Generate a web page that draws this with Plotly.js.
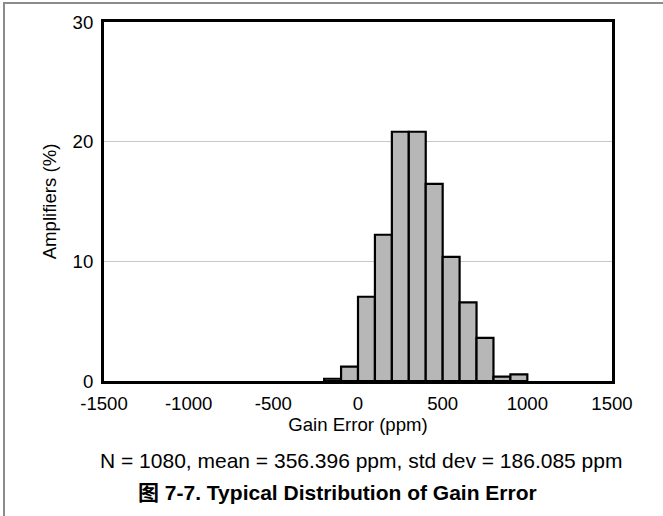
<!DOCTYPE html>
<html>
<head>
<meta charset="utf-8">
<script src="https://cdn.plot.ly/plotly-3.0.1.min.js"></script>
<style>
  html, body { margin: 0; padding: 0; background: #fff; }
  #wrap { position: relative; width: 663px; height: 516px; overflow: hidden; }
  #chart { position: absolute; left: 0; top: 0; width: 663px; height: 516px; }
  #frame { position: absolute; left: 3px; top: 2px; width: 700px; height: 600px;
           border-left: 2px solid #8c8c8c; border-top: 2px solid #8c8c8c; pointer-events: none; }
</style>
</head>
<body>
<div id="wrap">
  <div id="chart"></div>
  <div id="frame"></div>
</div>
<script>
// Histogram bins (ppm): bin centres, 100 ppm wide
const binCenters = [-150, -50, 50, 150, 250, 350, 450, 550, 650, 750, 850, 950];
// Share of amplifiers in each bin (%)
const amplifiersPct = [0.19, 1.2, 7.04, 12.22, 20.83, 20.83, 16.48, 10.37, 6.57, 3.61, 0.37, 0.56];
const binWidth = 100;

const xTicks = [-1500, -1000, -500, 0, 500, 1000, 1500];
const yTicks = [0, 10, 20, 30];

const statsText = 'N = 1080, mean = 356.396 ppm, std dev = 186.085 ppm';
const captionText = '<b>图 7-7. Typical Distribution of Gain Error</b>';

const FONT = 'Liberation Sans, Arial, Noto Sans CJK SC, sans-serif';
const AXFONT = { family: FONT, size: 18.6, color: '#000' };

const trace = {
  type: 'bar',
  x: binCenters,
  y: amplifiersPct,
  width: binCenters.map(() => binWidth),
  marker: { color: '#b7b7b7', line: { color: '#000', width: 2.2 } },
  hoverinfo: 'skip'
};

const layout = {
  width: 663,
  height: 516,
  margin: { l: 104, r: 51, t: 22, b: 135 },
  paper_bgcolor: '#fff',
  plot_bgcolor: '#fff',
  showlegend: false,
  font: { family: FONT, size: 14, color: '#000' },
  bargap: 0,
  xaxis: {
    range: [-1500, 1500],
    tickvals: xTicks,
    ticktext: xTicks.map(String),
    showgrid: false,
    zeroline: false,
    showline: true,
    mirror: true,
    linecolor: '#000',
    linewidth: 3,
    ticks: '',
    ticklabelstandoff: 4,
    tickfont: AXFONT,
    title: { text: 'Gain Error (ppm)', font: AXFONT, standoff: 0 }
  },
  yaxis: {
    range: [0, 30],
    tickvals: yTicks,
    ticktext: yTicks.map(String),
    showgrid: true,
    gridcolor: '#c8c8c8',
    gridwidth: 1,
    zeroline: false,
    showline: true,
    mirror: true,
    linecolor: '#000',
    linewidth: 3,
    ticks: '',
    ticklabelstandoff: 4,
    tickfont: AXFONT,
    title: { text: 'Amplifiers (%)', font: AXFONT, standoff: 12 }
  },
  annotations: [
    {
      xref: 'paper', yref: 'paper', x: 0.505, y: -0.222,
      xanchor: 'center', yanchor: 'middle', showarrow: false,
      text: statsText, font: { family: FONT, size: 21, color: '#000' }
    },
    {
      xref: 'paper', yref: 'paper', x: 0.46, y: -0.31,
      xanchor: 'center', yanchor: 'middle', showarrow: false,
      text: captionText, font: { family: FONT, size: 21, color: '#000' }
    }
  ]
};

Plotly.newPlot('chart', [trace], layout, { staticPlot: true, displayModeBar: false });
</script>
</body>
</html>
